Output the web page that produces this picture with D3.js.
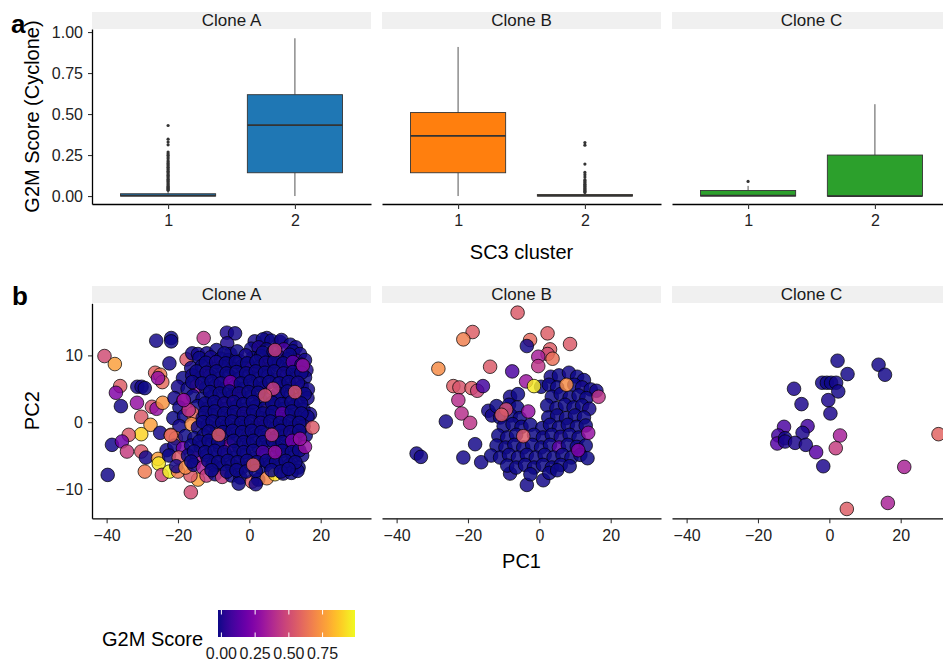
<!DOCTYPE html>
<html>
<head>
<meta charset="utf-8">
<script src="https://cdn.jsdelivr.net/npm/d3@7"></script>
<style>
  body { margin: 0; background: #fff; }
  svg { display: block; }
  text { font-family: "Liberation Sans", Arial, Helvetica, sans-serif; }
</style>
</head>
<body>
<svg id="fig" width="943" height="669"></svg>
<script>
// ---------------- data ----------------
const clones = ["Clone A", "Clone B", "Clone C"];
const clusters = ["1", "2"];
const cloneColors = ["#1f77b4", "#ff7f0e", "#2ca02c"];

// box summaries, ordered A1, A2, B1, B2, C1, C2
const boxWhiskerLow  = [0.000, 0.000, 0.000, 0.000, 0.000, 0.000];
const boxQ1          = [0.000, 0.142, 0.142, 0.000, 0.000, 0.000];
const boxMedian      = [0.003, 0.432, 0.367, 0.002, 0.003, 0.000];
const boxQ3          = [0.014, 0.618, 0.509, 0.009, 0.034, 0.250];
const boxWhiskerHigh = [0.030, 0.962, 0.909, 0.018, 0.062, 0.560];

const outliersA1 = [0.430, 0.347, 0.329, 0.312, 0.268, 0.258, 0.248, 0.238, 0.228,
  0.215, 0.207, 0.199, 0.191, 0.183, 0.175, 0.167, 0.159, 0.151, 0.143, 0.135, 0.127,
  0.119, 0.111, 0.103, 0.095, 0.088, 0.081, 0.074, 0.067, 0.060, 0.053, 0.047, 0.041, 0.035];
const outliersA2 = [];
const outliersB1 = [];
const outliersB2 = [0.326, 0.310, 0.195, 0.144, 0.130, 0.116, 0.100, 0.093, 0.086,
  0.079, 0.072, 0.065, 0.058, 0.051, 0.045, 0.039, 0.033, 0.027, 0.022];
const outliersC1 = [0.089];
const outliersC2 = [];

const yTicksTop = [0, 0.25, 0.5, 0.75, 1.0];
const pcXTicks = [-40, -20, 0, 20];
const pcYTicks = [-10, 0, 10];
const legendTicks = [0, 0.25, 0.5, 0.75];

// PCA coordinates per clone: [PC1, PC2, G2M score]
const pointsCloneA = [
  [-40.6, 9.9, .50], [-37.7, 8.7, .75], [-26.1, 12.2, .01], [-21.9, 12.6, .00], [-21.9, 12.1, .00],
  [-12.8, 12.6, .42], [-6.3, 13.4, .02], [-4.0, 13.3, .01], [-6.2, 11.8, .02], [4.9, 12.6, .01],
  [8.6, 12.0, .01], [-22.4, 8.8, .01], [-17.6, 9.4, .55], [-16.0, 10.3, .01], [-14.4, 10.2, .01],
  [-11.9, 10.3, .01], [-26.4, 7.4, .58], [-25.0, 7.1, .65], [-24.4, 6.0, .60], [-25.6, 6.6, .30],
  [-36.2, 5.4, .56], [-37.4, 4.4, .25], [-31.4, 5.3, .01], [-30.2, 5.3, .01], [-29.3, 5.1, .00],
  [-36.0, 2.4, .01], [-31.5, 2.9, .30], [-30.3, 0.8, .55], [-27.3, 2.3, .52], [-26.0, 2.0, .30],
  [-24.3, 2.9, .72], [-27.7, -0.4, .75], [-30.3, -1.8, .88], [-33.8, -1.9, .55], [-38.5, -3.4, .01],
  [-35.7, -2.9, .20], [-34.3, -4.4, .45], [-30.3, -4.4, .55], [-29.0, -5.3, .01], [-29.3, -7.4, .65],
  [-39.7, -7.9, .01], [-25.0, -1.6, .01], [-23.2, -4.2, .01], [-25.6, -5.5, .75], [-25.4, -6.2, .92],
  [-24.5, -7.9, .48], [-22.4, -7.4, .95], [-20.0, -7.4, .65], [-16.4, -10.5, .50], [-14.4, -8.6, .75],
  [-16.5, -8.0, .55],
  // dense core
  [1.5, 12.1, .01], [3.8, 12.4, .00], [6.2, 12.2, .00], [9.0, 12.3, .01], [11.5, 11.6, .00], [13.0, 11.2, .01],
  [0.5, 11.0, .00], [2.6, 11.2, .02], [4.8, 10.9, .00], [9.7, 10.9, .12], [12.2, 10.6, .00], [14.2, 10.2, .01],
  [-5.3, 10.2, .01], [-3.4, 10.6, .00], [-9.2, 10.8, .00],
  [-14.0, 9.6, .00], [-10.8, 9.7, .01], [-8.0, 9.5, .00], [-5.8, 9.3, .00], [-2.6, 9.1, .01], [0.9, 9.6, .00],
  [3.3, 9.9, .00], [5.8, 9.4, .00], [8.2, 9.8, .02], [10.6, 9.4, .00], [13.2, 9.2, .10], [15.6, 9.3, .01],
  [-16.3, 8.1, .01], [-13.3, 8.4, .00], [-10.5, 8.0, .00], [-7.6, 8.3, .00], [-4.8, 8.0, .01], [-2.0, 8.4, .00],
  [0.6, 8.0, .18], [2.8, 8.3, .00], [5.5, 8.0, .00], [8.0, 8.5, .01], [10.8, 8.0, .00], [13.4, 8.3, .00], [16.0, 7.8, .02],
  [-18.6, 6.6, .00], [-16.0, 7.0, .01], [-13.6, 6.6, .00], [-11.0, 6.9, .00], [-8.4, 6.5, .01], [-5.6, 6.9, .00],
  [-2.9, 6.5, .00], [-0.2, 6.9, .00], [2.5, 6.5, .00], [5.1, 6.8, .00], [7.8, 6.4, .00], [10.4, 6.8, .00],
  [13.1, 6.5, .01], [15.6, 6.7, .00],
  [-20.0, 5.3, .01], [-17.3, 5.0, .00], [-14.8, 5.4, .30], [-12.2, 5.1, .00], [-9.5, 5.4, .00], [-6.8, 5.0, .00],
  [-4.1, 5.3, .00], [-1.5, 5.0, .00], [1.2, 5.4, .00], [3.9, 5.1, .00], [9.3, 5.3, .00], [12.0, 5.0, .00],
  [14.7, 5.3, .00], [16.4, 4.9, .01],
  [-21.0, 3.6, .01], [-18.4, 3.3, .28], [-15.8, 3.9, .00], [-13.1, 3.5, .00], [-10.4, 3.8, .00], [-7.7, 3.5, .01],
  [-5.0, 3.8, .00], [-4.0, 3.5, .25], [-2.3, 3.5, .00], [0.4, 3.8, .00], [3.1, 3.4, .00], [5.8, 3.8, .00],
  [8.5, 3.5, .00], [11.2, 3.8, .00], [13.8, 3.4, .00], [16.3, 3.6, .01],
  [-19.6, 2.2, .00], [-17.0, 1.8, .40], [-14.5, 2.4, .00], [-11.8, 2.0, .00], [-9.1, 2.4, .00], [-6.4, 2.0, .00],
  [-3.7, 2.3, .00], [-1.0, 1.9, .00], [1.7, 2.3, .00], [4.9, 1.7, .60], [4.4, 2.1, .00], [7.1, 2.4, .00],
  [9.8, 2.0, .00], [12.5, 2.3, .00], [15.2, 1.9, .00], [17.0, 1.2, .01],
  [-21.3, 0.6, .00], [-18.3, 0.9, .00], [-15.9, 1.3, .60], [-13.1, 0.6, .00], [-10.4, 1.0, .00], [-7.7, 0.6, .00],
  [-5.0, 0.9, .01], [-2.3, 0.5, .00], [0.4, 1.0, .00], [3.1, 0.6, .00], [5.8, 0.9, .00], [8.5, 0.5, .00],
  [11.2, 0.9, .00], [13.9, 0.6, .00], [16.3, 0.8, .00],
  [-19.6, -0.6, .01], [-16.2, -0.3, .70], [-14.4, -0.8, .00], [-11.7, -0.5, .00], [-9.0, -0.9, .00], [-6.3, -0.5, .00],
  [-3.6, -0.8, .00], [-0.9, -0.4, .00], [1.8, -0.8, .00], [4.5, -0.5, .00], [7.2, -0.9, .00], [9.9, -0.5, .00],
  [12.6, -0.8, .00], [15.2, -0.6, .01],
  [-22.0, -1.9, .60], [-20.6, -2.4, .65], [-18.0, -2.1, .00], [-15.4, -2.4, .00], [-12.8, -2.0, .00], [-10.1, -2.3, .00],
  [-6.0, -2.2, .00], [-3.3, -2.0, .00], [-0.6, -2.3, .00], [2.1, -2.0, .00], [4.8, -2.3, .00], [7.5, -2.2, .00],
  [10.2, -2.0, .00], [12.9, -2.3, .00], [15.8, -2.0, .00],
  [-21.0, -3.5, .01], [-18.6, -3.9, .20], [-16.3, -3.5, .00], [-13.6, -3.8, .00], [-10.9, -3.4, .00], [-8.2, -3.8, .00],
  [-5.5, -3.5, .25], [-2.8, -3.8, .00], [-0.1, -3.4, .00], [2.6, -3.8, .00], [5.3, -3.5, .00], [8.0, -3.9, .00],
  [10.7, -3.5, .00], [13.4, -3.8, .00],
  [-22.5, -5.0, .00], [-19.8, -5.3, .55], [-17.2, -5.0, .00], [-14.6, -5.4, .30], [-12.0, -5.0, .00], [-9.3, -5.3, .00],
  [-6.6, -4.9, .00], [-3.9, -5.3, .00], [-1.2, -5.0, .00], [1.5, -5.4, .00], [6.9, -5.3, .00], [4.2, -5.0, .00],
  [9.6, -4.9, .00], [12.3, -5.3, .00], [14.8, -5.0, .01],
  [-20.5, -6.6, .01], [-17.9, -6.8, .70], [-15.6, -6.4, .00], [-13.0, -6.8, .35], [-10.3, -6.4, .00], [-7.6, -6.8, .00],
  [-4.9, -6.5, .00], [-2.2, -6.9, .00], [0.5, -6.5, .00], [3.2, -6.8, .00], [5.9, -6.4, .00], [8.6, -6.7, .00],
  [11.3, -6.4, .00], [13.8, -6.8, .00],
  [-12.0, -8.0, .45], [-9.6, -7.8, .00], [-7.6, -8.2, .45], [-5.0, -8.0, .00], [-2.5, -8.3, .00], [0.7, -8.9, .55],
  [2.5, -8.6, .00], [4.9, -8.4, .68], [7.2, -7.8, .90], [9.5, -7.7, .01], [11.8, -7.6, .00], [13.5, -7.3, .00],
  [-3.0, -9.2, .00], [1.8, -9.3, .01],
  // second layer of the core
  [-7.0, 10.3, .00], [-1.0, 10.0, .01], [3.8, 10.4, .00], [6.8, 10.6, .00], [11.3, 10.1, .00],
  [-12.2, 8.9, .00], [-9.3, 9.0, .01], [-6.6, 8.8, .00], [-3.8, 9.0, .00], [-0.6, 8.8, .00], [2.0, 9.1, .00],
  [4.6, 8.9, .01], [7.0, 9.1, .00], [9.5, 8.8, .00], [12.2, 9.0, .15], [14.6, 8.6, .00],
  [-14.8, 7.6, .00], [-12.0, 7.4, .01], [-9.2, 7.6, .00], [-6.4, 7.3, .00], [-3.6, 7.5, .00], [-0.9, 7.3, .00],
  [1.8, 7.6, .00], [4.4, 7.4, .00], [7.0, 7.6, .00], [9.6, 7.3, .01], [12.2, 7.5, .00], [14.6, 7.4, .00],
  [-16.0, 6.0, .00], [-13.3, 5.8, .00], [-10.6, 6.1, .00], [-8.0, 5.8, .01], [-5.3, 6.0, .20], [-2.4, 5.8, .00],
  [0.3, 6.1, .00], [3.0, 5.8, .00], [5.6, 6.0, .00], [8.4, 5.8, .00], [11.0, 6.0, .00], [13.6, 5.9, .01],
  [-11.0, 4.5, .00], [-8.3, 4.3, .00], [-5.6, 4.6, .00], [-2.9, 4.3, .01], [-0.2, 4.5, .00], [2.5, 4.4, .00],
  [8.0, 4.3, .00], [10.7, 4.6, .00], [15.5, 4.2, .00],
  [-12.4, 2.8, .00], [-9.8, 3.0, .00], [-7.0, 2.8, .01], [-4.4, 3.0, .00], [-1.7, 2.7, .00], [1.0, 3.0, .00],
  [6.4, 2.9, .00], [9.0, 2.7, .00], [11.8, 3.0, .00], [14.5, 2.8, .00],
  [-12.4, 1.4, .00], [-9.7, 1.6, .00], [-7.0, 1.3, .00], [-4.3, 1.5, .00], [-1.6, 1.3, .01], [1.1, 1.6, .00],
  [3.8, 1.3, .00], [6.5, 1.5, .00], [9.2, 1.3, .15], [11.9, 1.6, .00], [14.6, 1.3, .00],
  [-13.0, 0.0, .00], [-10.3, 0.1, .00], [-7.6, -0.1, .00], [-4.9, 0.1, .00], [-2.2, -0.1, .00], [0.5, 0.1, .00],
  [3.2, -0.1, .01], [5.9, 0.1, .00], [8.6, -0.1, .00], [11.3, 0.1, .00], [14.0, -0.1, .00],
  [-11.4, -1.4, .00], [-7.4, -1.5, .00], [-4.7, -1.3, .00], [-2.0, -1.5, .00], [0.7, -1.3, .00], [3.4, -1.5, .00],
  [8.8, -1.3, .00], [11.5, -1.5, .01], [14.0, -1.3, .00],
  [-14.0, -2.9, .00], [-11.4, -2.8, .00], [-8.7, -3.0, .00], [-4.4, -2.8, .00], [-1.6, -3.0, .00], [1.1, -2.8, .00],
  [3.8, -3.0, .00], [6.6, -2.8, .00], [9.3, -3.0, .00], [12.0, -2.8, .20],
  [-15.5, -4.4, .00], [-12.4, -4.5, .00], [-9.7, -4.3, .00], [-7.0, -4.5, .01], [-4.3, -4.3, .00], [-1.6, -4.5, .00],
  [1.1, -4.3, .00], [3.8, -4.5, .12], [9.2, -4.3, .00], [11.9, -4.5, .00], [14.0, -4.2, .00],
  [-16.3, -5.9, .00], [-11.5, -5.8, .00], [-8.7, -6.0, .00], [-6.0, -5.8, .00], [-3.3, -6.0, .00], [-0.6, -5.8, .00],
  [2.1, -6.0, .00], [4.8, -5.8, .00], [7.5, -6.0, .00], [10.2, -5.8, .00], [12.9, -6.0, .00],
  [-10.6, -7.2, .00], [-6.3, -7.4, .00], [-3.6, -7.2, .00], [-0.9, -7.4, .00], [1.8, -7.3, .00], [6.2, -7.2, .00],
  [8.8, -7.4, .00], [11.0, -7.0, .00],
  // scattered high scorers on top of the core
  [7.2, 10.8, .45], [6.7, 5.0, .45], [12.8, 4.5, .52], [4.4, 4.0, .52], [17.7, -0.8, .55], [15.6, -3.7, .30],
  [14.2, -2.5, .30], [6.3, -1.9, .42], [7.2, -4.5, .30], [1.1, -6.4, .55], [-8.6, -1.9, .55], [-17.0, 1.8, .42],
  [-18.4, 3.3, .30], [-22.0, -2.0, .60], [15.0, 8.5, .30]
];

const pointsCloneB = [
  [-6.1, 16.4, .55], [-18.7, 13.5, .56], [-21.3, 12.4, .66], [2.3, 13.3, .56], [8.6, 11.7, .55],
  [-2.6, 12.3, .60], [-3.5, 11.4, .01], [3.0, 10.9, .56], [2.3, 10.2, .50], [3.7, 9.5, .62],
  [-0.3, 9.8, .35], [-0.3, 8.4, .42], [-28.3, 8.0, .70], [-13.8, 8.3, .55], [-7.6, 7.6, .12],
  [-3.7, 6.1, .32], [-24.1, 5.4, .56], [-22.4, 5.2, .53], [-19.0, 5.1, .56], [-17.4, 4.7, .48],
  [-15.8, 5.4, .10], [-22.7, 3.3, .40], [-21.8, 1.3, .40], [-19.4, -0.1, .42], [-26.2, 0.1, .01],
  [-14.3, 1.7, .01], [-13.3, 1.0, .01], [-34.4, -4.7, .01], [-33.2, -5.2, .01], [-18.0, -3.3, .01],
  [-21.3, -5.3, .01], [-16.3, -6.0, .01], [-8.2, -7.7, .01], [-3.5, -9.4, .01], [1.1, -8.7, .01],
  // core
  [3.2, 6.8, .01], [5.5, 7.0, .00], [8.3, 7.4, .01], [10.6, 6.8, .00], [12.5, 6.3, .00],
  [0.5, 5.3, .00], [2.7, 5.6, .00], [5.0, 5.2, .00], [9.8, 5.6, .00], [12.0, 5.2, .01], [14.4, 4.9, .00], [16.0, 4.7, .01],
  [-8.2, 3.8, .01], [-6.0, 4.2, .00], [3.5, 3.8, .00], [6.0, 4.2, .00], [8.5, 3.7, .00], [11.0, 4.0, .00], [13.2, 3.6, .00],
  [-12.0, 2.4, .00], [-8.5, 2.6, .00], [-6.2, 2.2, .00], [2.2, 2.5, .00], [4.8, 2.1, .00], [7.2, 2.6, .00],
  [9.6, 2.2, .00], [12.0, 2.5, .00], [14.0, 2.0, .01],
  [-11.0, 0.7, .00], [-8.0, 1.0, .00], [-5.5, 0.6, .00], [2.5, 0.7, .00], [5.0, 1.0, .00], [7.5, 0.6, .00],
  [10.0, 1.0, .00], [12.5, 0.7, .00],
  [-10.0, -0.6, .00], [-7.5, -0.3, .00], [-5.0, -0.7, .00], [-2.5, -0.4, .00], [0.8, -0.9, .00], [3.0, -0.4, .00],
  [5.5, -0.8, .00], [8.0, -0.4, .00], [10.5, -0.7, .00], [13.0, -0.5, .00],
  [-11.5, -2.0, .00], [-9.0, -2.3, .00], [-6.5, -1.9, .00], [-1.5, -1.9, .00], [1.0, -2.3, .00],
  [3.5, -1.9, .00], [6.0, -2.2, .01], [8.5, -1.9, .00], [11.0, -2.3, .00],
  [-12.0, -3.5, .00], [-9.5, -3.8, .00], [-7.0, -3.4, .00], [-4.5, -3.8, .00], [-2.0, -3.4, .00], [0.5, -3.8, .00],
  [3.0, -3.4, .00], [5.5, -3.8, .15], [8.0, -3.4, .00], [10.5, -3.7, .00], [13.0, -3.5, .00],
  [-13.5, -5.0, .00], [-11.0, -5.3, .00], [-8.5, -4.9, .00], [-6.0, -5.3, .00], [-3.5, -4.9, .00], [-1.0, -5.3, .00],
  [1.5, -4.9, .00], [4.0, -5.3, .00], [6.5, -4.9, .00], [9.0, -5.3, .00], [11.5, -4.9, .00], [13.5, -5.4, .00],
  [-9.0, -6.5, .00], [-6.5, -6.8, .00], [-4.0, -6.4, .00], [-1.5, -6.8, .00], [1.0, -6.4, .00], [3.5, -6.8, .00],
  [6.0, -6.4, .00], [8.5, -6.6, .00], [-2.5, -7.8, .00], [2.8, -7.6, .00], [5.0, -7.2, .00],
  // high scorers on top
  [-1.5, 5.4, .93], [7.6, 5.6, .70], [16.6, 3.8, .42], [-9.3, 1.9, .50], [-10.6, 1.1, .55],
  [-3.1, 1.6, .30], [-4.5, -2.1, .55], [13.7, -1.6, .30], [10.9, -4.2, .25]
];

const pointsCloneC = [
  [2.3, 9.2, .01], [5.1, 7.2, .01], [13.8, 8.6, .01], [15.6, 7.1, .01],
  [-2.0, 5.9, .01], [-0.7, 5.9, .00], [0.5, 5.9, .00], [1.9, 5.9, .01], [2.5, 4.6, .01],
  [-9.9, 5.0, .02], [-0.3, 3.3, .02], [-7.8, 2.7, .02], [0.3, 1.3, .02],
  [-12.7, -0.7, .12], [-6.1, -0.6, .10], [-7.5, -1.6, .02], [-14.3, -2.0, .10], [-14.6, -3.2, .14],
  [-12.4, -2.4, .01], [-12.4, -2.9, .02], [-9.6, -3.1, .02], [-6.6, -3.4, .02], [-3.7, -4.5, .15],
  [-1.7, -6.6, .02], [3.0, -2.0, .35], [1.8, -3.9, .45], [30.6, -1.8, .58], [21.0, -6.7, .36],
  [16.4, -12.1, .36], [4.9, -13.0, .56]
];
const scatterData = [pointsCloneA, pointsCloneB, pointsCloneC];
const outlierData = [outliersA1, outliersA2, outliersB1, outliersB2, outliersC1, outliersC2];

// ---------------- layout ----------------
const svg = d3.select("#fig");
svg.append("rect").attr("width", 943).attr("height", 669).attr("fill", "#fff");

const panelScale = d3.scaleBand().domain(clones).range([92, 951]).paddingInner(0.0379);
const panelW = panelScale.bandwidth();
const inkDark = "#1a1a1a";
const axisColor = "#000";

function strip(top, label, left) {
  svg.append("rect").attr("x", left).attr("y", top).attr("width", panelW).attr("height", 17)
    .attr("fill", "#f0f0f0");
  svg.append("text").attr("x", left + panelW / 2).attr("y", top + 14)
    .attr("text-anchor", "middle").attr("font-size", 17).attr("fill", inkDark).text(label);
}

function styleAxis(g) {
  g.select(".domain").attr("stroke", axisColor).attr("stroke-width", 1.3);
  g.selectAll(".tick line").attr("stroke", "#333").attr("stroke-width", 1.1);
  g.selectAll(".tick text").attr("font-size", 16).attr("fill", "#222")
    .attr("font-family", '"Liberation Sans", Arial, sans-serif');
}

// ---------------- panel a: box plots ----------------
const topY = d3.scaleLinear().domain([-0.0485, 1.0185]).range([204, 29]);
const catX = d3.scalePoint().domain(clusters).range([0, panelW]).padding(0.6);
const boxW = catX.step() * 0.75;

clones.forEach((clone, ci) => {
  const left = panelScale(clone);
  strip(12, clone, left);
  const g = svg.append("g").attr("transform", `translate(${left},0)`);

  clusters.forEach((cl, ki) => {
    const k = ci * 2 + ki;
    const cx = catX(cl);
    // whiskers
    g.append("line").attr("x1", cx).attr("x2", cx)
      .attr("y1", topY(boxQ3[k])).attr("y2", topY(boxWhiskerHigh[k]))
      .attr("stroke", "#555").attr("stroke-width", 1);
    g.append("line").attr("x1", cx).attr("x2", cx)
      .attr("y1", topY(boxQ1[k])).attr("y2", topY(boxWhiskerLow[k]))
      .attr("stroke", "#555").attr("stroke-width", 1);
    // box
    g.append("rect").attr("x", cx - boxW / 2).attr("width", boxW)
      .attr("y", topY(boxQ3[k])).attr("height", Math.max(topY(boxQ1[k]) - topY(boxQ3[k]), 0.5))
      .attr("fill", cloneColors[ci]).attr("stroke", "#333").attr("stroke-width", 0.9);
    // median
    g.append("line").attr("x1", cx - boxW / 2).attr("x2", cx + boxW / 2)
      .attr("y1", topY(boxMedian[k])).attr("y2", topY(boxMedian[k]))
      .attr("stroke", "#333").attr("stroke-width", 1.8);
    // outliers
    g.selectAll(null).data(outlierData[k]).enter().append("circle")
      .attr("cx", cx).attr("cy", d => topY(d)).attr("r", 1.6).attr("fill", "#333");
  });

  const xa = g.append("g").attr("transform", "translate(0,204)")
    .call(d3.axisBottom(catX).tickSize(5).tickSizeOuter(0).tickPadding(6));
  styleAxis(xa);
  if (ci === 0) {
    const ya = g.append("g").call(d3.axisLeft(topY).tickValues(yTicksTop)
      .tickFormat(d3.format(".2f")).tickSize(4).tickSizeOuter(0).tickPadding(5));
    styleAxis(ya);
  }
});

// ---------------- panel b: PCA scatter ----------------
const color = d3.scaleSequential(d3.interpolatePlasma).domain([0, 0.965]);
const pcX = d3.scaleLinear().domain([-44.1, 34.1]).range([0, panelW]);
const pcY = d3.scaleLinear().domain([-14.4, 17.8]).range([518.3, 303.3]);

clones.forEach((clone, ci) => {
  const left = panelScale(clone);
  strip(286, clone, left);
  const g = svg.append("g").attr("transform", `translate(${left},0)`);

  g.selectAll("circle.pt").data(scatterData[ci]).enter().append("circle")
    .attr("class", "pt")
    .attr("cx", d => pcX(d[0])).attr("cy", d => pcY(d[1])).attr("r", 6.8)
    .attr("fill", d => color(d[2])).attr("fill-opacity", 0.84)
    .attr("stroke", "#000").attr("stroke-opacity", 0.8).attr("stroke-width", 0.9);

  const xa = g.append("g").attr("transform", "translate(0,518.3)")
    .call(d3.axisBottom(pcX).tickValues(pcXTicks).tickSize(5).tickSizeOuter(0).tickPadding(6));
  styleAxis(xa);
  if (ci === 0) {
    const ya = g.append("g").call(d3.axisLeft(pcY).tickValues(pcYTicks)
      .tickSize(4).tickSizeOuter(0).tickPadding(5));
    styleAxis(ya);
  }
});

// ---------------- titles ----------------
svg.append("text").attr("x", 11).attr("y", 33).attr("font-size", 26).attr("font-weight", "bold")
  .attr("fill", "#000").text("a");
svg.append("text").attr("x", 12).attr("y", 305).attr("font-size", 26).attr("font-weight", "bold")
  .attr("fill", "#000").text("b");

svg.append("text").attr("transform", "translate(39,116.5) rotate(-90)")
  .attr("text-anchor", "middle").attr("font-size", 20).attr("fill", "#000").text("G2M Score (Cyclone)");
svg.append("text").attr("transform", "translate(39,410.7) rotate(-90)")
  .attr("text-anchor", "middle").attr("font-size", 20).attr("fill", "#000").text("PC2");
svg.append("text").attr("x", 521.5).attr("y", 258.7).attr("text-anchor", "middle")
  .attr("font-size", 20).attr("fill", "#000").text("SC3 cluster");
svg.append("text").attr("x", 521.5).attr("y", 568).attr("text-anchor", "middle")
  .attr("font-size", 20).attr("fill", "#000").text("PC1");

// ---------------- colour legend ----------------
const legX = d3.scaleLinear().domain([0, 0.965]).range([221.4, 351.6]);
const defs = svg.append("defs");
const grad = defs.append("linearGradient").attr("id", "g2mGrad");
d3.range(0, 1.0001, 0.05).forEach(t => {
  grad.append("stop").attr("offset", `${t * 100}%`).attr("stop-color", d3.interpolatePlasma(t));
});
svg.append("rect").attr("x", 218).attr("y", 610).attr("width", 137).attr("height", 27)
  .attr("fill", "url(#g2mGrad)");
legendTicks.forEach(v => {
  const x = legX(v);
  svg.append("line").attr("x1", x).attr("x2", x).attr("y1", 610).attr("y2", 614.5)
    .attr("stroke", "#fff").attr("stroke-width", 1);
  svg.append("line").attr("x1", x).attr("x2", x).attr("y1", 632.5).attr("y2", 637)
    .attr("stroke", "#fff").attr("stroke-width", 1);
  svg.append("text").attr("x", x).attr("y", 659).attr("text-anchor", "middle")
    .attr("font-size", 16).attr("fill", inkDark).text(d3.format(".2f")(v));
});
svg.append("text").attr("x", 102).attr("y", 646).attr("font-size", 20).attr("fill", "#000")
  .text("G2M Score");
</script>
</body>
</html>
